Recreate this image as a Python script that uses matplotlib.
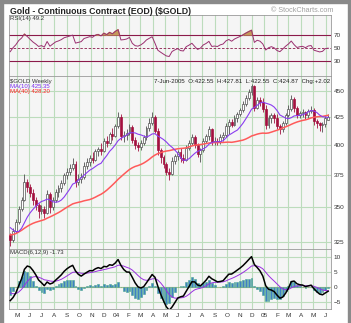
import numpy as np
import pandas as pd
import matplotlib
matplotlib.use("Agg")
import matplotlib.pyplot as plt
import matplotlib.dates as mdates
from matplotlib.patches import Rectangle
import datetime as dt

plt.rcParams['font.family'] = ['Liberation Sans', 'DejaVu Sans']

# weekly closes before the visible window (warm-up for the indicators)
prior_closes = [317, 321, 312, 304, 308, 311, 312, 313, 316, 320,
                322, 324, 320, 317, 312, 316, 318, 321, 319, 318,
                324, 330, 334, 344, 350, 355, 356, 367, 370, 355,
                354, 350, 352, 347, 333, 330, 325, 329, 330, 329]

first_week = dt.date(2003, 4, 15)

opens = [330, 326, 333, 339, 349, 356, 370, 366, 361, 356,
         352, 347, 349, 346, 360, 350, 356, 362, 365, 369,
         375, 378, 381, 384, 370, 372, 374, 383, 386, 389,
         388, 395, 397, 395, 404, 402, 410, 408, 417, 425,
         408, 409, 411, 416, 405, 400, 399, 402, 407, 415,
         420, 425, 413, 396, 390, 384, 378, 376, 387, 391,
         394, 389, 388, 398, 402, 407, 400, 393, 396, 404,
         408, 414, 403, 404, 403, 407, 409, 417, 421, 418,
         424, 428, 432, 437, 443, 449, 455, 434, 441, 439,
         433, 418, 424, 427, 424, 417, 414, 420, 427, 433,
         442, 434, 427, 429, 430, 427, 431, 432, 422, 420,
         418, 419, 422.55]
highs = [331, 335, 341, 351, 358, 376, 372, 368, 364, 358,
         353, 352, 351, 363, 362, 358, 364, 367, 371, 377,
         381, 384, 389, 387, 376, 377, 386, 389, 392, 394,
         397, 399, 402, 406, 408, 412, 415, 419, 430, 428,
         413, 414, 419, 418, 407, 403, 405, 409, 417, 424,
         430, 427, 415, 398, 392, 386, 381, 390, 393, 396,
         398, 393, 400, 405, 410, 409, 402, 398, 406, 410,
         417, 415, 407, 406, 410, 412, 420, 423, 423, 427,
         430, 434, 440, 446, 452, 457, 456, 444, 444, 443,
         436, 427, 429, 429, 428, 419, 422, 429, 436, 446,
         444, 435, 431, 433, 431, 433, 435, 434, 423, 421,
         421, 426, 427.81]
lows = [322, 325, 331, 338, 347, 355, 362, 358, 352, 348,
        342, 345, 342, 345, 346, 348, 354, 358, 362, 367,
        372, 375, 379, 366, 367, 369, 372, 380, 383, 385,
        387, 391, 392, 394, 399, 401, 405, 407, 415, 405,
        403, 405, 409, 402, 397, 395, 396, 400, 405, 413,
        418, 411, 392, 385, 381, 375, 371, 375, 384, 388,
        386, 385, 387, 396, 400, 398, 390, 386, 394, 402,
        405, 400, 400, 400, 401, 404, 407, 410, 416, 417,
        421, 426, 430, 435, 441, 446, 431, 433, 435, 430,
        414, 415, 420, 420, 414, 410, 412, 418, 425, 431,
        430, 424, 424, 425, 423, 424, 429, 418, 415, 413,
        412, 416, 422.55]
closes = [326, 333, 339, 349, 356, 370, 366, 361, 356, 352,
          347, 349, 346, 360, 350, 356, 362, 365, 369, 375,
          378, 381, 384, 370, 372, 374, 383, 386, 389, 388,
          395, 397, 395, 404, 402, 410, 408, 417, 425, 408,
          409, 411, 416, 405, 400, 399, 402, 407, 415, 420,
          425, 413, 396, 390, 384, 378, 376, 387, 391, 394,
          389, 388, 398, 402, 407, 400, 393, 396, 404, 408,
          414, 403, 404, 403, 407, 409, 417, 421, 418, 424,
          428, 432, 437, 443, 449, 455, 434, 441, 439, 433,
          418, 424, 427, 424, 417, 414, 420, 427, 433, 442,
          434, 427, 429, 430, 427, 431, 432, 422, 420, 418,
          419, 424, 424.87]

price_ticks = [325, 350, 375, 400, 425, 450]
rsi_ticks = [30, 50, 70]
macd_ticks = [-5, 0, 5, 10]
title = "Gold - Continuous Contract (EOD) ($GOLD)"
info = "7-Jun-2005  O:422.55  H:427.81  L:422.55  C:424.87  Chg:+2.02"

W, H = 351, 323
GRID = '#bcdcbc'
BG = '#f5f5f5'

dates = [first_week + dt.timedelta(days=7 * i) for i in range(len(closes))]
xs = mdates.date2num(dates)

# indicators
s = pd.Series(prior_closes + closes, dtype=float)
n0 = len(prior_closes)
ma10 = s.rolling(10).mean().values[n0:]
ma40 = s.rolling(40).mean().values[n0:]
d = s.diff()
ag = d.clip(lower=0).ewm(alpha=1 / 14, adjust=False).mean()
al = (-d.clip(upper=0)).ewm(alpha=1 / 14, adjust=False).mean()
rsi = (100 - 100 / (1 + ag / al)).values[n0:]
macd = s.ewm(span=6, adjust=False).mean() - s.ewm(span=12, adjust=False).mean()
signal = macd.ewm(span=9, adjust=False).mean()
hist = (macd - signal).values[n0:]
macd = macd.values[n0:]
signal = signal.values[n0:]


def rect(l, t, r, b):
    return [l / W, 1 - b / H, (r - l) / W, (b - t) / H]


fig = plt.figure(figsize=(W / 100, H / 100), dpi=100)
fig.patch.set_facecolor('white')

# grey frame around the image
for r in [(0, 0, 3 / W, 1), (0, 1 - 3 / H, 1, 3 / H), (1 - 3 / W, 0, 3 / W, 1)]:
    fig.patches.append(Rectangle(r[:2], r[2], r[3], transform=fig.transFigure,
                                 color='#8a8a8a', zorder=0))

ax_rsi = fig.add_axes(rect(9, 15, 331, 76))
ax_p = fig.add_axes(rect(9, 76, 331, 249))
ax_m = fig.add_axes(rect(9, 249, 331, 309))

xmin = mdates.date2num(dt.date(2003, 4, 12))
xmax = mdates.date2num(dt.date(2005, 6, 14))

month_starts = []
m_labels = []
y, m = 2003, 5
while (y, m) <= (2005, 6):
    month_starts.append(mdates.date2num(dt.date(y, m, 1)))
    m_labels.append('%02d' % (y % 100) if m == 1 else 'JFMAMJJASOND'[m - 1])
    m += 1
    if m > 12:
        y, m = y + 1, 1

for ax in (ax_rsi, ax_p, ax_m):
    ax.set_facecolor(BG)
    ax.set_xlim(xmin, xmax)
    for xm in month_starts:
        ax.axvline(xm, color=GRID, lw=0.8, zorder=0)
    for sp in ax.spines.values():
        sp.set_color('#9a9a9a')
        sp.set_linewidth(0.6)
    ax.yaxis.tick_right()
    ax.tick_params(axis='y', labelsize=4.6, length=0, pad=2, colors='#333333')
    ax.tick_params(axis='x', length=0)
    ax.set_xticks([])

# RSI panel
ax_rsi.set_ylim(8, 100)
ax_rsi.set_yticks(rsi_ticks)
ax_rsi.axhline(70, color='#8b1a4a', lw=0.8)
ax_rsi.axhline(30, color='#8b1a4a', lw=0.8)
ax_rsi.axhline(50, color='#8b1a4a', lw=0.6, ls=(0, (3, 2)))
ax_rsi.fill_between(xs, rsi, 70, where=rsi > 70, color='#c49a5a', interpolate=True, zorder=2)
ax_rsi.plot(xs, rsi, color='#9a3070', lw=0.7, zorder=3)
ax_rsi.text(0.003, 0.99, 'RSI(14) 49.2', transform=ax_rsi.transAxes, fontsize=4.3,
            va='top', ha='left', color='#333333')

# price panel
ax_p.set_yscale('log')
ax_p.set_ylim(320, 464.5)
ax_p.set_yticks(price_ticks)
ax_p.set_yticklabels([str(v) for v in price_ticks])
ax_p.yaxis.set_minor_locator(matplotlib.ticker.NullLocator())
for v in price_ticks:
    ax_p.axhline(v, color=GRID, lw=0.8, zorder=0)

prev = [prior_closes[-1]] + closes[:-1]
bw = 4.6
for x, o, hi, lo, c, pc in zip(xs, opens, highs, lows, closes, prev):
    col = '#505050' if c >= pc else '#a3103f'
    face = 'white' if c >= o else col
    ax_p.vlines(x, lo, hi, color=col, lw=0.6, zorder=3)
    ax_p.bar(x, max(abs(c - o), 0.6), bottom=min(o, c), width=bw, color=face,
             edgecolor=col, linewidth=0.5, zorder=4)

ax_p.plot(xs, ma40, color='#ff5a5a', lw=1.1, zorder=5)
ax_p.plot(xs, ma10, color='#8a3cf0', lw=0.8, zorder=5)

ax_p.text(0.003, 0.985, '$GOLD Weekly', transform=ax_p.transAxes, fontsize=4.3,
          va='top', ha='left', color='#333333')
ax_p.text(0.003, 0.955, 'MA(10) 425.35', transform=ax_p.transAxes, fontsize=4.3,
          va='top', ha='left', color='#7b2cf0')
ax_p.text(0.003, 0.925, 'MA(40) 428.20', transform=ax_p.transAxes, fontsize=4.3,
          va='top', ha='left', color='#ff2020')
ax_p.text(0.997, 0.985, info, transform=ax_p.transAxes, fontsize=4.4,
          va='top', ha='right', color='#222222')

# MACD panel
ax_m.set_ylim(-7.2, 12.7)
ax_m.set_yticks(macd_ticks)
for v in macd_ticks:
    ax_m.axhline(v, color=GRID, lw=0.8, zorder=0)
ax_m.axhline(0, color='#c8c890', lw=0.8, zorder=1)
ax_m.bar(xs, hist, width=4.6, color='#3f80c4', edgecolor='#4aa88a', linewidth=0.4, zorder=2)
ax_m.plot(xs, signal, color='#9a30e0', lw=0.7, zorder=3)
ax_m.plot(xs, macd, color='black', lw=1.1, zorder=4)
ax_m.text(0.003, 0.98, 'MACD(6,12,9) -1.73', transform=ax_m.transAxes, fontsize=4.3,
          va='top', ha='left', color='#333333')

ax_m.set_xticks(month_starts)
ax_m.set_xticklabels(m_labels)
ax_m.tick_params(axis='x', labelsize=4.6, length=0, pad=3, colors='#333333')

fig.text(10 / W, 1 - 11 / H, title, fontsize=6.3, fontweight='bold', va='center',
         ha='left', color='#222222', family=['Liberation Sans Narrow', 'Liberation Sans'])
fig.text(333 / W, 1 - 10 / H, '\u00a9 StockCharts.com', fontsize=5.2, va='center',
         ha='right', color='#a0a0a0')

fig.savefig('out.png', dpi=100)
